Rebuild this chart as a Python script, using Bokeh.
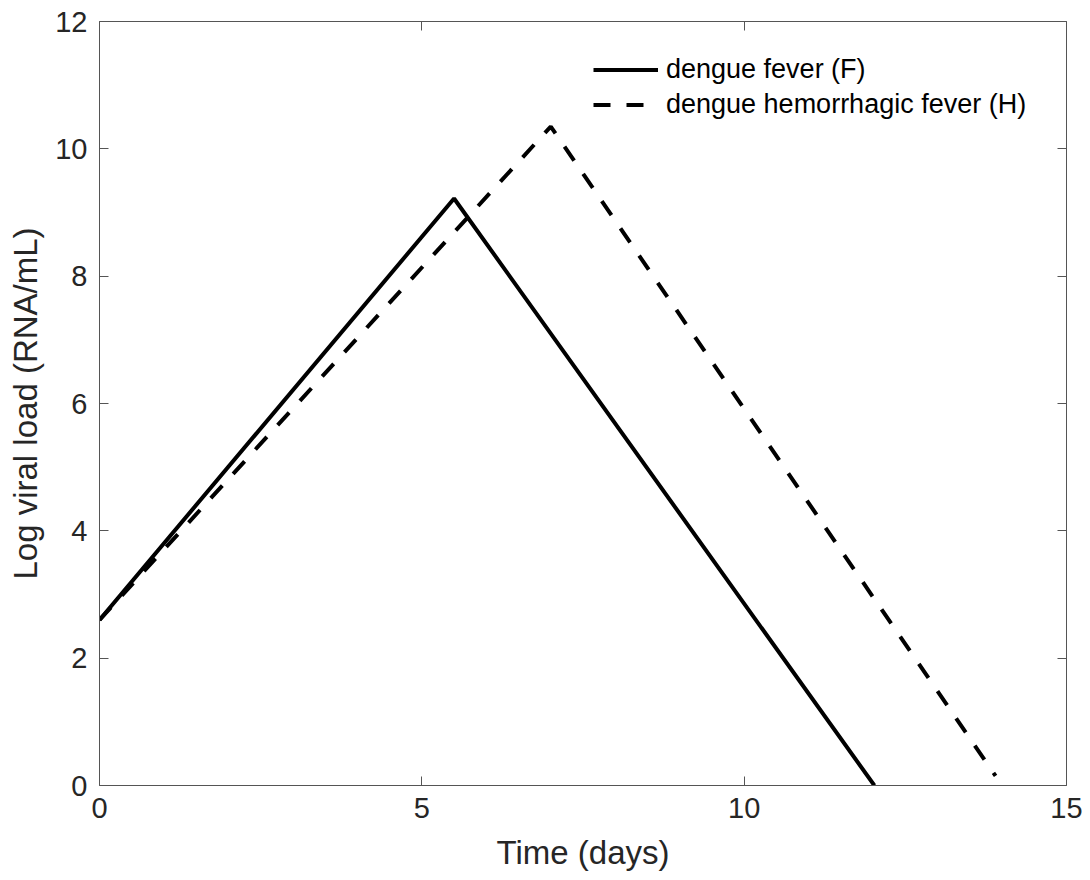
from bokeh.plotting import figure
from bokeh.models import Range1d, FixedTicker, LinearAxis, Legend, LegendItem
from bokeh.embed import file_html
from bokeh.resources import INLINE

# Data
time_fever = [0.0, 5.5, 12.02]
load_fever = [2.6, 9.22, 0.0]
time_hemorrhagic = [0.0, 7.0, 13.9]
load_hemorrhagic = [2.6, 10.35, 0.15]

x_ticks = [0, 5, 10, 15]
y_ticks = [0, 2, 4, 6, 8, 10, 12]

FONT = "Liberation Sans"
AX_COLOR = "#555555"
TXT_COLOR = "#262626"

p = figure(width=1090, height=880, output_backend="svg", toolbar_location=None,
           x_range=Range1d(0, 15), y_range=Range1d(0, 12),
           x_axis_label="Time (days)", y_axis_label="Log viral load (RNA/mL)",
           min_border_left=99, min_border_right=24, min_border_top=21, min_border_bottom=95)
p.background_fill_color = "white"
p.border_fill_color = "white"
p.outline_line_color = None
p.grid.visible = False

def style_axis(ax, ticks, show_labels=True):
    ax.ticker = FixedTicker(ticks=ticks)
    ax.minor_tick_line_color = None
    ax.major_tick_in = 9
    ax.major_tick_out = 0
    ax.axis_line_color = AX_COLOR
    ax.axis_line_width = 1
    ax.major_tick_line_color = AX_COLOR
    ax.major_tick_line_width = 1
    ax.major_label_text_font = FONT
    ax.major_label_text_color = TXT_COLOR
    ax.axis_label_text_font = FONT
    ax.axis_label_text_color = TXT_COLOR
    ax.axis_label_text_font_style = "normal"
    ax.axis_label_text_font_size = "33px"
    ax.major_label_text_font_size = "29px"
    if show_labels:
        ax.major_label_standoff = 12
    else:
        ax.major_label_standoff = 0
        ax.major_label_overrides = {t: "" for t in ticks}

style_axis(p.xaxis[0], x_ticks)
style_axis(p.yaxis[0], y_ticks)
p.xaxis[0].axis_label_standoff = 13
p.yaxis[0].axis_label_standoff = 8

top_axis = LinearAxis()
style_axis(top_axis, x_ticks, show_labels=False)
p.add_layout(top_axis, "above")
right_axis = LinearAxis()
style_axis(right_axis, y_ticks, show_labels=False)
p.add_layout(right_axis, "right")

r_f = p.line(time_fever, load_fever, line_color="black", line_width=4)
r_h = p.line(time_hemorrhagic, load_hemorrhagic, line_color="black", line_width=4,
             line_dash="17 16")

legend = Legend(items=[LegendItem(label="dengue fever (F)", renderers=[r_f]),
                       LegendItem(label="dengue hemorrhagic fever (H)", renderers=[r_h])],
                location=(494, 663))
legend.label_text_font = FONT
legend.label_text_font_size = "27px"
legend.label_text_color = "black"
legend.glyph_width = 65
legend.glyph_height = 35
legend.label_height = 35
legend.label_standoff = 8
legend.spacing = 0
legend.padding = 0
legend.margin = 0
legend.border_line_color = None
legend.background_fill_alpha = 0
p.add_layout(legend, "center")

open("out.html", "w").write(file_html(p, INLINE))
